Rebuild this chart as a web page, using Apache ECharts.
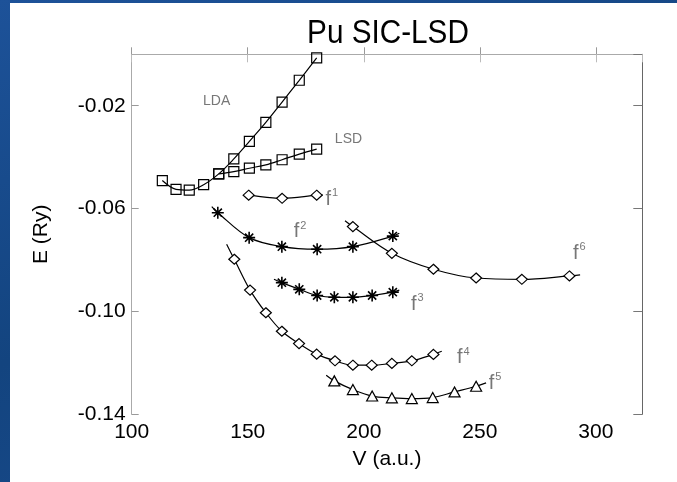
<!DOCTYPE html>
<html>
<head>
<meta charset="utf-8">
<script src="https://cdn.jsdelivr.net/npm/echarts@6/dist/echarts.min.js"></script>
<style>
  html, body { margin:0; padding:0; width:677px; height:482px; overflow:hidden; }
  body { background: linear-gradient(160deg, #1d5299 0%, #13447f 50%, #1a4c90 100%); position:relative; }
  #panel { position:absolute; left:10px; top:3px; right:0; bottom:0; background:#fff; }
  #chart { position:absolute; left:0; top:0; width:677px; height:482px; }
</style>
</head>
<body>
<div id="panel"></div>
<div id="chart"></div>
<script>
// ---- data (V in a.u., E in Ry) ----
const ldaV = [113.2, 119.1, 124.8, 131.0, 137.5, 144.0, 150.7, 157.8, 164.8, 172.2, 179.7];
const ldaE = [-0.0491, -0.0525, -0.0528, -0.0507, -0.0465, -0.0407, -0.0339, -0.0265, -0.0186, -0.0101, -0.0014];

const lsdV = [137.5, 144.0, 150.7, 157.8, 164.8, 172.2, 179.7];
const lsdE = [-0.0465, -0.0456, -0.0443, -0.0430, -0.0410, -0.0388, -0.0369];

const f1V = [150.4, 164.8, 179.7];
const f1E = [-0.0548, -0.0560, -0.0548];
const f1Fit = [[148.8, -0.0547], [182.3, -0.0547]];

const f2V = [137.1, 150.6, 164.7, 179.9, 195.3, 212.5];
const f2E = [-0.0616, -0.0713, -0.0748, -0.0758, -0.0748, -0.0707];
const f2Fit = [[134.5, -0.0592], [215.3, -0.0696]];

const f3V = [164.7, 172.2, 179.9, 187.3, 195.3, 203.6, 212.5];
const f3E = [-0.0888, -0.0914, -0.0938, -0.0945, -0.0945, -0.0938, -0.0925];
const f3Fit = [[161.3, -0.0875], [215.3, -0.0917]];

const f4V = [144.2, 151.0, 157.8, 164.7, 172.1, 179.7, 187.6, 195.3, 203.4, 212.1, 220.7, 230.0];
const f4E = [-0.0797, -0.0917, -0.1005, -0.1077, -0.1125, -0.1166, -0.1192, -0.1209, -0.1209, -0.1202, -0.1192, -0.1167];
const f4Fit = [[140.9, -0.0739], [233.6, -0.1155]];

const f5V = [187.3, 195.3, 203.6, 212.1, 220.7, 229.7, 239.1, 248.4];
const f5E = [-0.1270, -0.1304, -0.1329, -0.1336, -0.1339, -0.1335, -0.1313, -0.1291];
const f5Fit = [[183.8, -0.1248], [252.7, -0.1278]];

const f6V = [195.3, 212.1, 230.0, 248.4, 268.1, 288.6];
const f6E = [-0.0670, -0.0774, -0.0836, -0.0870, -0.0875, -0.0862];
const f6Fit = [[191.9, -0.0647], [293.2, -0.0858]];

const xTicks = [100, 150, 200, 250, 300];
const yTicks = [-0.14, -0.10, -0.06, -0.02];

// annotation labels [text, superscript, V, E]
const notes = [
  ['LDA', '', 136.6, -0.0183],
  ['LSD', '', 193.4, -0.0330],
  ['f', '1', 186.2, -0.0563],
  ['f', '2', 172.5, -0.0690],
  ['f', '3', 223.1, -0.0971],
  ['f', '4', 242.9, -0.1179],
  ['f', '5', 256.6, -0.1280],
  ['f', '6', 292.9, -0.0774]
];

// ---- build ----
const ASTER = 'path://M5,0L5,10M0,5L10,5M1.6,1.6L8.4,8.4M8.4,1.6L1.6,8.4';

function pts(V, E) { return V.map((v, i) => [v, E[i]]); }
function withFit(V, E, fit) {
  const d = pts(V, E);
  return [{ value: fit[0], symbol: 'none' }].concat(d, [{ value: fit[1], symbol: 'none' }]);
}
function curve(name, data, symbol, size, fill, bw) {
  return {
    name, type: 'line', data, smooth: 0.35,
    symbol, symbolSize: size, showAllSymbol: true,
    lineStyle: { color: '#000', width: 1.2 },
    itemStyle: { color: fill, borderColor: '#000', borderWidth: bw },
    emphasis: { disabled: true }, z: 3
  };
}

const series = [
  curve('LDA', pts(ldaV, ldaE), 'rect', 10, 'transparent', 1.2),
  curve('LSD', pts(lsdV, lsdE), 'rect', 10, 'transparent', 1.2),
  curve('f1', withFit(f1V, f1E, f1Fit), 'diamond', [11, 10], '#fff', 1.2),
  curve('f2', withFit(f2V, f2E, f2Fit), ASTER, 12, 'transparent', 1.6),
  curve('f3', withFit(f3V, f3E, f3Fit), ASTER, 12, 'transparent', 1.6),
  curve('f4', withFit(f4V, f4E, f4Fit), 'diamond', [11, 10], '#fff', 1.2),
  curve('f5', withFit(f5V, f5E, f5Fit), 'triangle', [11, 10], '#fff', 1.2),
  curve('f6', withFit(f6V, f6E, f6Fit), 'diamond', [11, 10], '#fff', 1.2),
  {
    name: 'notes', type: 'scatter', symbol: 'circle', symbolSize: 1, silent: true, z: 4,
    itemStyle: { color: 'rgba(0,0,0,0)' },
    data: notes.map(n => ({ value: [n[2], n[3]], t: n[0], s: n[1] })),
    label: {
      show: true, position: 'inside',
      formatter: p => p.data.s ? '{f|' + p.data.t + '}{s|' + p.data.s + '}' : '{n|' + p.data.t + '}',
      rich: {
        f: { fontFamily: 'Liberation Sans', fontSize: 20, color: '#555' },
        s: { fontFamily: 'Liberation Sans', fontSize: 11, color: '#555', padding: [0, 0, 12, 1] },
        n: { fontFamily: 'Liberation Sans', fontSize: 14, color: '#555' }
      }
    }
  }
];

const tickFont = { fontFamily: 'Liberation Sans', fontSize: 21, color: '#000' };

const chart = echarts.init(document.getElementById('chart'), null, { renderer: 'canvas' });
chart.setOption({
  backgroundColor: 'transparent',
  animation: false,
  graphic: [{
    type: 'text', x: 388, y: 34, scaleX: 0.9, originX: 0, silent: true,
    style: {
      text: 'Pu SIC-LSD', fontFamily: 'Liberation Sans', fontSize: 33, fill: '#000',
      textAlign: 'center', textVerticalAlign: 'middle'
    }
  }],
  grid: { left: 131.7, right: 34.7, top: 54.3, bottom: 67.7, containLabel: false },
  xAxis: [
    {
      type: 'value', min: 100, max: 320, interval: 50, position: 'bottom',
      name: 'V (a.u.)', nameLocation: 'middle', nameGap: 34,
      nameTextStyle: { fontFamily: 'Liberation Sans', fontSize: 21, color: '#000' },
      axisLine: { lineStyle: { color: '#666', width: 1 } },
      axisTick: { inside: true, length: 7, lineStyle: { color: '#999' } },
      axisLabel: Object.assign({ margin: 7, showMaxLabel: false,
        formatter: v => xTicks.includes(Math.round(v)) ? String(Math.round(v)) : '' }, tickFont),
      splitLine: { show: false }
    },
    {
      type: 'value', min: 100, max: 320, interval: 50, position: 'top',
      axisLine: { onZero: false, lineStyle: { color: '#aaa', width: 1 } },
      axisTick: { inside: true, length: 8, lineStyle: { color: '#bbb' } },
      axisLabel: { show: false }, splitLine: { show: false }
    }
  ],
  yAxis: [
    {
      type: 'value', min: -0.14, max: 0, interval: 0.04, position: 'left',
      name: 'E (Ry)', nameLocation: 'middle', nameGap: 80,
      nameTextStyle: { fontFamily: 'Liberation Sans', fontSize: 21, color: '#000' },
      axisLine: { onZero: false, lineStyle: { color: '#aaa', width: 1 } },
      axisTick: { inside: true, length: 7, lineStyle: { color: '#999' } },
      axisLabel: Object.assign({ margin: 6, showMaxLabel: false,
        formatter: v => {
          const r = Math.round(v * 100) / 100;
          return yTicks.some(t => Math.abs(t - r) < 1e-9) ? r.toFixed(2) : '';
        } }, tickFont),
      splitLine: { show: false }
    },
    {
      type: 'value', min: -0.14, max: 0, interval: 0.04, position: 'right',
      axisLine: { show: true, onZero: false, lineStyle: { color: '#666', width: 1 } },
      axisTick: { inside: true, length: 9, lineStyle: { color: '#777' } },
      axisLabel: { show: false }, splitLine: { show: false }
    }
  ],
  series
});
</script>
</body>
</html>
